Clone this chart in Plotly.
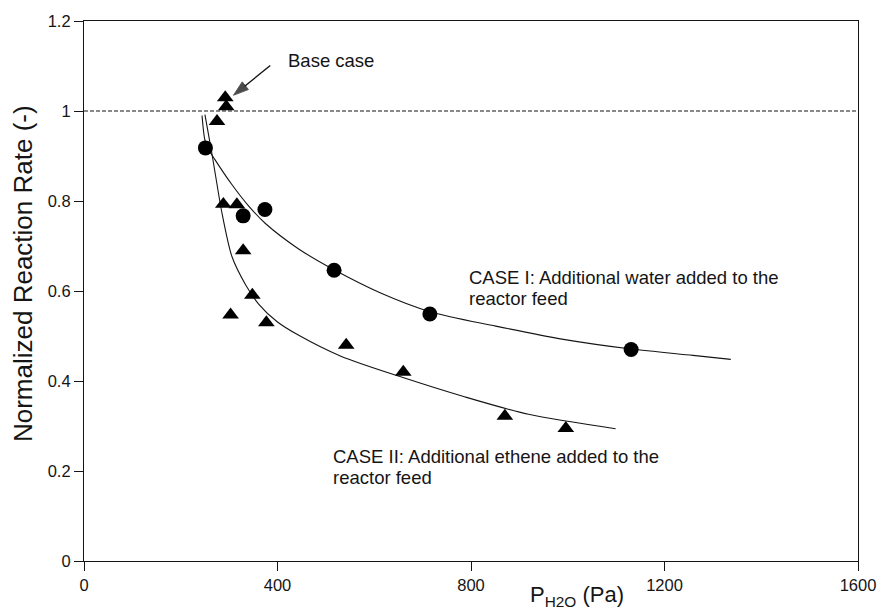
import plotly.graph_objects as go

# Measured points -- Case I: additional water added to the reactor feed
case1_p = [251, 329, 374, 517, 715, 1131]
case1_rate = [0.918, 0.767, 0.781, 0.646, 0.549, 0.470]

# Measured points -- Case II: additional ethene added to the reactor feed
case2_p = [292, 294, 275, 288, 316, 329, 348, 303, 377, 542, 660, 870, 996]
case2_rate = [1.030, 1.010, 0.977, 0.793, 0.792, 0.690, 0.591, 0.547, 0.530,
              0.480, 0.420, 0.322, 0.295]

# Model curves
fit1_p = [244, 250, 258, 270, 306, 341, 375, 443, 517, 612, 715, 851, 988,
          1131, 1259, 1337]
fit1_rate = [0.990, 0.935, 0.914, 0.893, 0.836, 0.788, 0.750, 0.694, 0.647,
             0.596, 0.554, 0.522, 0.493, 0.471, 0.457, 0.448]

fit2_p = [250, 255, 260, 266, 276, 284, 306, 334, 361, 400, 443, 531, 661,
          783, 919, 1099]
fit2_rate = [0.992, 0.962, 0.932, 0.895, 0.830, 0.780, 0.676, 0.614, 0.571,
             0.531, 0.502, 0.455, 0.407, 0.366, 0.326, 0.294]

# Reference level (base case = 1)
base_p = [0, 1600]
base_rate = [1, 1]

# Pointer to the base-case run: tail, head
pointer_p = [385, 309]
pointer_rate = [1.101, 1.035]

x_ticks = [0, 400, 800, 1200, 1600]
y_ticks = [0, 0.2, 0.4, 0.6, 0.8, 1.0, 1.2]
y_ticklabels = ["0", "0.2", "0.4", "0.6", "0.8", "1", "1.2"]

FONT = "Liberation Sans, Arial, Helvetica, sans-serif"
INK = "#151515"

fig = go.Figure()

fig.add_trace(go.Scatter(x=base_p, y=base_rate, mode="lines",
                         line=dict(color=INK, width=1.2, dash="4px,2px"),
                         hoverinfo="skip"))
fig.add_trace(go.Scatter(x=fit1_p, y=fit1_rate, mode="lines",
                         line=dict(color=INK, width=1.1, shape="spline",
                                   smoothing=0.8)))
fig.add_trace(go.Scatter(x=fit2_p, y=fit2_rate, mode="lines",
                         line=dict(color=INK, width=1.1, shape="spline",
                                   smoothing=0.8)))
fig.add_trace(go.Scatter(x=case1_p, y=case1_rate, mode="markers",
                         marker=dict(symbol="circle", size=15, color="black")))
fig.add_trace(go.Scatter(x=case2_p, y=case2_rate, mode="markers",
                         marker=dict(symbol="triangle-up", size=14.5,
                                     color="black")))
fig.add_trace(go.Scatter(x=pointer_p, y=pointer_rate, mode="lines+markers",
                         line=dict(color=INK, width=1.4),
                         marker=dict(symbol="arrow", angleref="previous",
                                     size=[0, 16], color="black"),
                         hoverinfo="skip"))

annos = [
    dict(x=417, y=1.112, text="Base case"),
    dict(x=792, y=0.631, text="CASE I: Additional water added to the"),
    dict(x=792, y=0.584, text="reactor feed"),
    dict(x=511, y=0.232, text="CASE II: Additional ethene added to the"),
    dict(x=511, y=0.185, text="reactor feed"),
]
for a in annos:
    a.update(xref="x", yref="y", xanchor="left", yanchor="middle",
             showarrow=False, font=dict(size=18.5))

# Axis titles
annos.append(dict(x=-0.079, y=0.533, xref="paper", yref="paper",
                  text="Normalized Reaction Rate (-)", textangle=-90,
                  xanchor="center", yanchor="middle", showarrow=False,
                  font=dict(size=26)))
annos.append(dict(x=0.574, y=0, xref="paper", yref="paper",
                  text="P<sub>H2O</sub> (Pa)", xanchor="left", yanchor="top",
                  yshift=-19, showarrow=False, font=dict(size=22)))

fig.update_layout(
    width=888, height=613,
    margin=dict(l=84, r=23, t=17, b=52),
    paper_bgcolor="white", plot_bgcolor="white",
    showlegend=False,
    font=dict(family=FONT, color=INK, size=18.5),
    annotations=annos,
)

axis_common = dict(showgrid=False, zeroline=False, showline=True,
                   linecolor=INK, linewidth=1.2, mirror=True,
                   ticks="outside", ticklen=9, tickwidth=1, tickcolor=INK,
                   tickfont=dict(size=16.5, color=INK, family=FONT))

fig.update_xaxes(range=[0, 1600], tickvals=x_ticks, **axis_common)
fig.update_yaxes(range=[0, 1.2], tickvals=y_ticks, ticktext=y_ticklabels,
                 **axis_common)

fig.write_html("out.html")
